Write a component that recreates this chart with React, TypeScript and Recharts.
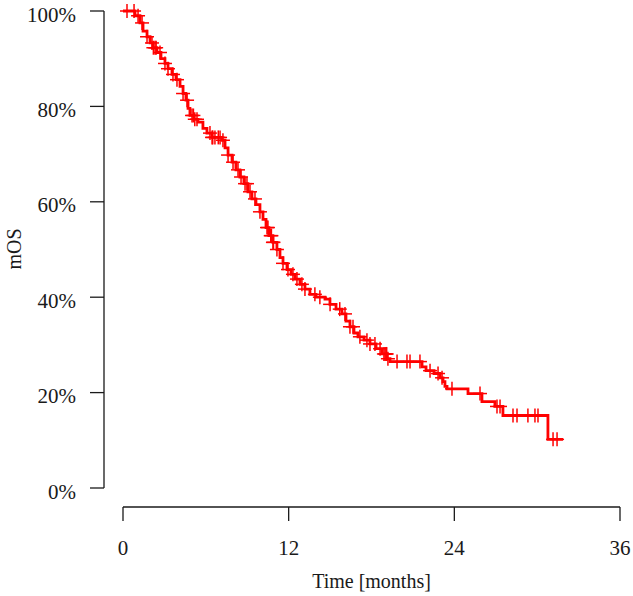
import { ComposedChart, Line, Scatter, XAxis, YAxis } from "recharts";

// Kaplan–Meier estimate: event times (months) and survival after each step (%)
const eventMonths = [
  0, 0.87, 1.23, 1.45, 1.74, 1.96, 2.17, 2.46, 2.75, 3.04, 3.26, 3.55, 3.84, 4.13, 4.35, 4.56, 4.71, 4.85,
  5.14, 5.43, 5.79, 6.08, 6.45, 7.17, 7.39, 7.61, 7.9, 8.18, 8.47, 8.76, 9.05, 9.34, 9.63, 9.92, 10.14, 10.36,
  10.57, 10.86, 11.15, 11.37, 11.59, 11.88, 12.17, 12.46, 12.82, 13.18, 13.54, 13.98, 14.63, 14.99, 15.43, 15.86,
  16.15, 16.44, 16.73, 17.02, 17.46, 17.89, 18.33, 18.76, 19.12, 19.34, 21.66, 21.95, 22.53, 22.96, 23.18, 23.32,
  23.47, 24.99, 26.0, 26.94, 27.52, 30.78, 31.87,
];
const survivalPct = [
  100, 99.0, 97.5, 95.8, 94.6, 93.3, 92.3, 91.3, 90.0, 89.0, 87.9, 86.7, 85.6, 84.2, 82.7, 81.3, 79.6, 78.1,
  77.3, 76.7, 75.4, 74.4, 73.5, 72.9, 71.3, 69.8, 68.3, 66.7, 65.2, 63.8, 62.1, 60.6, 59.4, 57.9, 56.3, 54.6,
  52.9, 51.5, 50.0, 48.3, 47.1, 45.8, 44.8, 43.8, 42.7, 41.7, 40.6, 40.0, 39.6, 38.5, 37.5, 36.5, 35.0, 33.8,
  32.5, 31.7, 31.0, 30.2, 29.2, 28.1, 27.1, 26.5, 25.4, 24.6, 24.0, 23.1, 22.3, 21.3, 20.8, 19.8, 18.1, 17.1,
  15.2, 10.2, 10.2,
];
// censored observations (months)
const censorMonths = [
  0.29, 0.8, 1.09, 1.38, 1.74, 2.1, 2.2, 2.32, 2.4, 2.68, 3.04, 3.26, 3.62, 3.91, 4.35, 4.64, 5.0, 5.1, 5.2, 5.36,
  6.3, 6.45, 6.5, 6.66, 6.9, 7.03, 7.24, 7.61, 7.97, 8.33, 8.55, 8.84, 8.98, 9.2, 9.56, 9.92, 10.43, 10.5, 10.7,
  10.75, 10.86, 10.9, 11.15, 11.59, 11.95, 12.31, 12.6, 12.96, 13.18, 13.9, 14.26, 15.0, 15.7, 16.08, 16.44,
  16.66, 17.16, 17.67, 17.89, 18.25, 18.62, 18.9, 18.98, 19.05, 19.1, 19.19, 19.85, 20.57, 20.79, 21.51, 22.24,
  22.82, 23.11, 23.83, 25.86, 27.09, 27.31, 28.25, 28.54, 29.33, 29.84, 30.06, 31.15, 31.44,
];
const monthTicks = [0, 12, 24, 36];
const pctTicks = [0, 20, 40, 60, 80, 100];

const curve = eventMonths.map((t, i) => ({ t, s: survivalPct[i] }));

// a censored subject sits on the curve at its time
const survivalAt = (t: number) => {
  let s = survivalPct[0];
  for (let i = 0; i < eventMonths.length; i++) {
    if (eventMonths[i] <= t) s = survivalPct[i];
  }
  return s;
};
const censored = censorMonths.map((t) => ({ t, s: survivalAt(t) }));

const W = 633;
const H = 596;
const PLOT_LEFT = 104;
const PLOT_TOP = 11;
const PLOT_RIGHT = 620;
const PLOT_BOTTOM = 507;
const PAD_X = 19;
const PAD_Y = 19;
const FONT = "'Liberation Serif', 'Times New Roman', serif";
const INK = "#1a1a1a";
const FS = 21;

const Plus = (props: any) => {
  const { cx, cy } = props;
  const r = 7;
  return (
    <g stroke="#ff0000" strokeWidth={1.5}>
      <line x1={cx - r} y1={cy} x2={cx + r} y2={cy} />
      <line x1={cx} y1={cy - r} x2={cx} y2={cy + r} />
    </g>
  );
};

const MonthTick = ({ x, y, payload }: any) => (
  <text x={x} y={y} dy="0.71em" textAnchor="middle" fontFamily={FONT} fontSize={FS} fill={INK}>
    {payload.value}
  </text>
);

const PctTick = ({ x, y, payload }: any) => (
  <text x={x} y={y} dy="0.5em" textAnchor="end" fontFamily={FONT} fontSize={FS} fill={INK}>
    {`${payload.value}%`}
  </text>
);

export default function App() {
  return (
    <div style={{ position: "absolute", left: 0, top: 0, width: W, height: H, background: "#fff" }}>
      <ComposedChart
        width={W}
        height={H}
        margin={{ top: PLOT_TOP, right: W - PLOT_RIGHT, bottom: 0, left: 0 }}
        style={{ fontFamily: FONT }}
      >
        <XAxis
          type="number"
          dataKey="t"
          domain={[0, 36]}
          ticks={monthTicks}
          padding={{ left: PAD_X, right: 0 }}
          height={H - PLOT_BOTTOM}
          axisLine={false}
          tickSize={14}
          tickMargin={19}
          tickLine={{ stroke: INK, strokeWidth: 1.3 }}
          tick={<MonthTick />}
        />
        <YAxis
          type="number"
          dataKey="s"
          domain={[0, 100]}
          ticks={pctTicks}
          padding={{ top: 0, bottom: PAD_Y }}
          width={PLOT_LEFT}
          axisLine={false}
          tickSize={14}
          tickMargin={14}
          tickLine={{ stroke: INK, strokeWidth: 1.3 }}
          tick={<PctTick />}
        />
        <Line
          data={curve}
          dataKey="s"
          type="stepAfter"
          stroke="#ff0000"
          strokeWidth={2.8}
          dot={false}
          isAnimationActive={false}
        />
        <Scatter data={censored} dataKey="s" shape={<Plus />} isAnimationActive={false} />
      </ComposedChart>
      {/* detached axis lines and titles */}
      <svg width={W} height={H} style={{ position: "absolute", left: 0, top: 0, pointerEvents: "none" }}>
        <line x1={PLOT_LEFT} y1={PLOT_TOP} x2={PLOT_LEFT} y2={PLOT_BOTTOM - PAD_Y} stroke={INK} strokeWidth={1.3} />
        <line x1={PLOT_LEFT + PAD_X} y1={PLOT_BOTTOM} x2={PLOT_RIGHT} y2={PLOT_BOTTOM} stroke={INK} strokeWidth={1.3} />
        <text x={(PLOT_LEFT + PAD_X + PLOT_RIGHT) / 2} y={588} textAnchor="middle" fontFamily={FONT} fontSize={20} fill={INK}>
          Time [months]
        </text>
        <text
          x={0}
          y={0}
          transform="translate(21 249) rotate(-90)"
          textAnchor="middle"
          fontFamily={FONT}
          fontSize={20}
          fill={INK}
        >
          mOS
        </text>
      </svg>
    </div>
  );
}
